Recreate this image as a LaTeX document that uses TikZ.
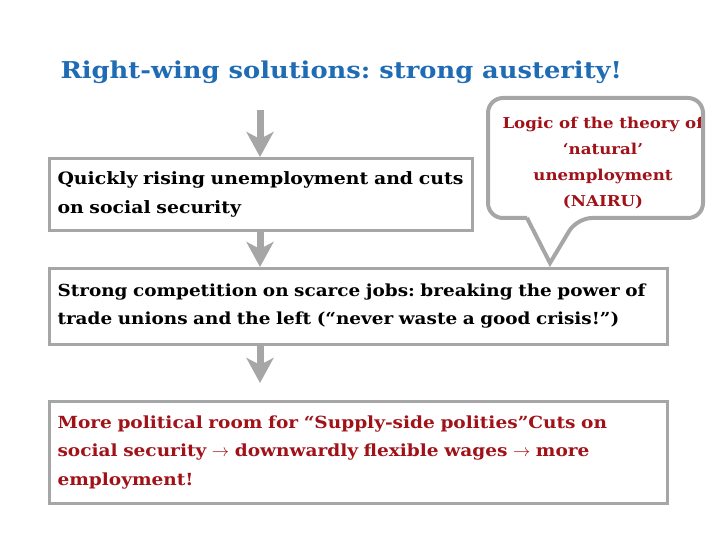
\documentclass[tikz,border=0pt]{standalone}
\usepackage{fontspec}
\setmainfont{DejaVu Serif}[FakeStretch=1.11]
\usetikzlibrary{positioning,arrows.meta}
\frenchspacing

\definecolor{titleblue}{RGB}{31,108,181}
\definecolor{darkred}{RGB}{160,18,24}
\definecolor{linegray}{RGB}{166,166,166}

\tikzset{
  every box/.style={draw=linegray, line width=3pt, anchor=north west,
    inner xsep=8pt, inner ysep=0pt, align=left,
    font=\bfseries\fontsize{17}{29}\selectfont},
  flow arrow/.style={draw=linegray, line width=7pt,
    -{Stealth[width=27pt,length=25pt,inset=7pt]}},
  bubble/.style={draw=linegray, line width=4pt, rounded corners=15pt},
}

\begin{document}
\begin{tikzpicture}[x=1pt, y=-1pt]
\useasboundingbox (0,0) rectangle (720,540);

% title
\node [anchor=west, text=titleblue, font=\bfseries\fontsize{23.2}{28}\selectfont]
  (title) at (57,72) {Right-wing solutions: strong austerity!};

% boxes
\node [every box, text width=407pt, minimum height=72pt] (rising) at (48,157)
  {Quickly rising unemployment and cuts\\ on social security};
\node [every box, text width=602pt, minimum height=76pt,
  font=\bfseries\fontsize{16.6}{28}\selectfont] (competition) at (48,267)
  {Strong competition on scarce jobs: breaking the power of\\ trade unions and the left (“never waste a good crisis!”)};
\node [every box, text width=602pt, minimum height=102pt, text=darkred,
  font=\bfseries\fontsize{16.7}{28.5}\selectfont] (room) at (48,400)
  {More political room for “Supply-side polities”Cuts on\\ social security $\rightarrow$ downwardly flexible wages $\rightarrow$ more\\ employment!};

% arrows
\coordinate (start) at (260,110);
\draw [flow arrow] (start) -- (rising.north -| start);
\draw [flow arrow] (rising.south -| start) -- (competition.north -| start);
\draw [flow arrow, shorten >=17pt] (competition.south -| start) -- (room.north -| start);

% callout
\node [align=center, text=darkred, font=\bfseries\fontsize{15}{26}\selectfont]
  (nairu) at (603,163) {Logic of the theory of\\ ‘natural’\\ unemployment\\ (NAIRU)};
\coordinate (tip) at ([yshift=4pt]competition.north -| 550,0);
\draw [bubble] (527,218) -- (488,218) -- (488,98) -- (703,98) -- (703,218)
  -- (577,218) [sharp corners] -- (tip) -- (527,218);

\end{tikzpicture}
\end{document}
